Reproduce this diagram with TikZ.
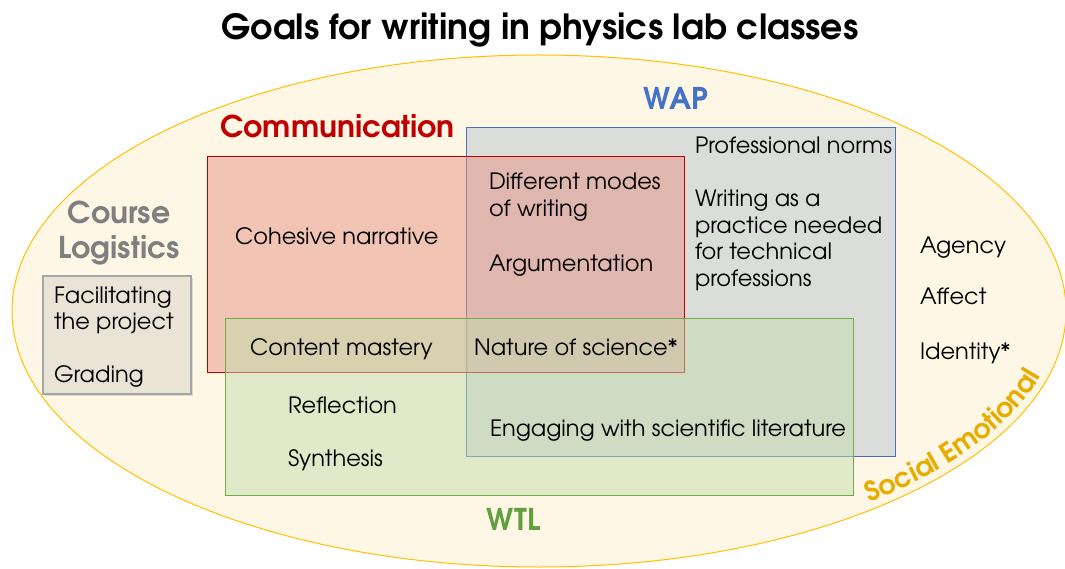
\documentclass[tikz,border=0pt]{standalone}
\usepackage{fontspec}
\setmainfont{texgyreadventor}[Extension=.otf, UprightFont=*-regular, BoldFont=*-bold, ItalicFont=*-italic, BoldItalicFont=*-bolditalic]
\usetikzlibrary{decorations.text,shadows}
\definecolor{cream}{HTML}{FFF7E6}
\definecolor{goldline}{HTML}{FFC000}
\definecolor{segold}{HTML}{E6AD00}
\definecolor{commred}{HTML}{C00000}
\definecolor{redfill}{RGB}{229,146,132}
\definecolor{wapblue}{HTML}{4472C4}
\definecolor{bluefill}{RGB}{185,196,210}
\definecolor{wtlgreen}{HTML}{70AD47}
\definecolor{wtltext}{HTML}{62A03F}
\definecolor{greenfill}{RGB}{195,220,172}
\definecolor{logfill}{HTML}{E9E4D5}
\definecolor{loggray}{HTML}{A6A6A6}
\definecolor{labgray}{HTML}{7F7F7F}
\tikzset{
  body/.style={anchor=base west, align=left, font=\fontsize{22.5}{26.7}\selectfont, text=black},
  biglabel/.style={anchor=base, font=\fontsize{30}{35}\selectfont\bfseries},
  setbox/.style={rectangle, inner sep=0pt, fill opacity=0.5, line width=1pt},
}
\begin{document}
\begin{tikzpicture}[x=1pt,y=1pt, every node/.style={inner sep=0pt, outer sep=0pt}]
\useasboundingbox (0,0) rectangle (1065,568);
\fill[white] (0,0) rectangle (1065,568);
% outer ellipse
\coordinate (E) at (539,257);
\draw[fill=cream, draw=goldline, line width=1pt] (E) ellipse [x radius=527, y radius=256];
% title
\node[anchor=base, font=\fontsize{34.7}{40}\selectfont\bfseries] (title) at (540,528) {Goals for writing in physics lab classes};
% set boxes
\node[setbox, fill=bluefill, draw=wapblue, minimum width=429, minimum height=328] (wap) at (680.5,276) {};
\node[setbox, fill=redfill, draw=commred, minimum width=477, minimum height=216] (comm) at (445.5,303) {};
\node[setbox, fill=greenfill, draw=wtlgreen, minimum width=628, minimum height=176] (wtl) at (539,161) {};
\node[rectangle, fill=logfill, draw=loggray, line width=1.2pt, minimum width=148, minimum height=118,
  drop shadow={opacity=0.25, shadow xshift=2pt, shadow yshift=-2pt}] (logbox) at (117,233) {};
% set labels
\node[biglabel, text=commred] (commlabel) at (337.5,430.3) {Communication};
\node[biglabel, text=wapblue] (waplabel) at (676,458) {WAP};
\node[biglabel, text=wtltext] (wtllabel) at (513.5,38) {WTL};
\node[biglabel, text=labgray] (course) at (119,344) {Course};
\node[biglabel, text=labgray] (logistics) at (119,309) {Logistics};
% texts (base anchor of a multi-line node is its last line)
\node[body] (cohesive) at (235,323) {Cohesive narrative};
\node[body] (modes) at (489,351.3) {Different modes\\of writing};
\node[body] (argu) at (489,296.3) {Argumentation};
\node[body] (norms) at (695,414.7) {Professional norms};
\node[body] (practice) at (695,281.3) {Writing as a\\practice needed\\for technical\\professions};
\node[body] (agency) at (920,314.7) {Agency};
\node[body] (affect) at (920,263) {Affect};
\node[body] (identity) at (920,208.7) {Identity*};
\node[body] (facil) at (54,238) {Facilitating\\the project};
\node[body] (grading) at (54,185.8) {Grading};
\node[body] (content) at (250,212) {Content mastery};
\node[body] (nature) at (474,212) {Nature of science*};
\node[body] (reflection) at (288,154.7) {Reflection};
\node[body] (synthesis) at (288,101.3) {Synthesis};
\node[body] (engaging) at (490,131.3) {Engaging with scientific literature};
% social emotional along the ellipse
\path[decorate, decoration={text along path, text align=left,
  text={|\fontsize{27}{27}\selectfont\bfseries\color{segold}|Social Emotional}}]
  ([shift={(-50.5:520 and 248)}]E) arc[start angle=-50.5, end angle=-3, x radius=520, y radius=248];
\end{tikzpicture}
\end{document}
